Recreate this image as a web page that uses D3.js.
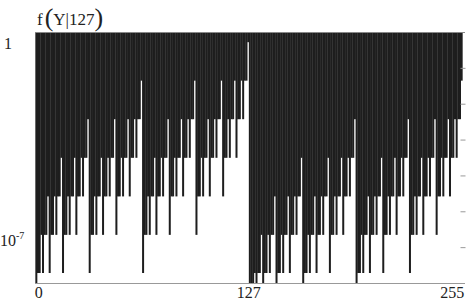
<!DOCTYPE html>
<html lang="en">
<head>
  <meta charset="utf-8">
  <script src="https://d3js.org/d3.v7.min.js"></script>
  <style>
    body { margin: 0; background: #fff; }
    text { font-family: "Liberation Serif", "DejaVu Serif", serif; fill: #222; }
    .axis path, .axis line { stroke: #999; }
  </style>
</head>
<body>
<script>
    // Hamming-distance level of each output Y (0..255), read bar by bar
    var levelOfY = [
      7,6,6,5,6,5,5,4,6,5,5,4,5,4,4,3, 6,5,5,4,5,4,4,3,5,4,4,3,4,3,3,2,
      6,5,5,4,5,4,4,3,5,4,4,3,4,3,3,2, 5,4,4,3,4,3,3,2,4,3,3,2,3,2,2,1,
      6,5,5,4,5,4,4,3,5,4,4,3,4,3,3,2, 5,4,4,3,4,3,3,2,4,3,3,2,3,2,2,1,
      5,4,4,3,4,3,3,2,4,3,3,2,3,2,2,1, 4,3,3,2,3,2,2,1,3,2,2,1,2,1,1,0,
      8,7,7,6,7,6,6,5,7,6,6,5,6,5,5,4, 7,6,6,5,6,5,5,4,6,5,5,4,5,4,4,3,
      7,6,6,5,6,5,5,4,6,5,5,4,5,4,4,3, 6,5,5,4,5,4,4,3,5,4,4,3,4,3,3,2,
      7,6,6,5,6,5,5,4,6,5,5,4,5,4,4,3, 6,5,5,4,5,4,4,3,5,4,4,3,4,3,3,2,
      6,5,5,4,5,4,4,3,5,4,4,3,4,3,3,2, 5,4,4,3,4,3,3,2,4,3,3,2,3,2,2,1
    ];
    // value of f(Y|127) for each level (estimated from bar ends)
    var levelValue = [5.2e-1, 4.4e-2, 3.7e-3, 3.1e-4, 2.6e-5, 2.2e-6, 1.9e-7, 1.6e-8, 1.3e-9];
    var xTicks = [0, 127, 255];
    var yLabels = [1, 1e-7];
    var yMinorTicks = [1e-6, 1e-5, 1e-4, 1e-3, 1e-2, 1e-1];

    var width = 466, height = 302;
    var mLeft = 35, mRight = 465, mTop = 32, mBottom = 283;

    var data = levelOfY.map(function(l, i){ return {y: i, f: levelValue[l]}; });

    var svg = d3.select("body").append("svg")
        .attr("width", width)
        .attr("height", height);

    var x = d3.scaleLinear().domain([-0.8, 257]).range([mLeft, mRight]);
    var y = d3.scaleLog().domain([1e-7, 1]).range([mBottom, mTop]).clamp(true);
    var step = x(1) - x(0);

    // bars hang from the top of the box down to the value (slight overlap so they read as solid)
    svg.append("g")
        .selectAll("rect")
        .data(data)
        .enter().append("rect")
        .attr("x", function(d){ return x(d.y) - step * 0.6; })
        .attr("width", step * 1.2)
        .attr("y", mTop)
        .attr("height", function(d){ return y(d.f) - mTop; })
        .attr("fill", "#1e1e1e");

    // box top
    svg.append("line")
        .attr("x1", mLeft).attr("x2", mRight)
        .attr("y1", mTop + 0.5).attr("y2", mTop + 0.5)
        .attr("stroke", "#888");

    // x axis
    var xAxis = svg.append("g")
        .attr("class", "axis")
        .attr("transform", "translate(0," + (mBottom + 0.5) + ")")
        .call(d3.axisBottom(x).tickValues(xTicks).tickSize(0).tickPadding(3).tickFormat(d3.format("d")));
    xAxis.select(".domain").attr("d", "M" + mLeft + ",0H" + mRight);
    xAxis.selectAll("text").attr("font-size", 16).style("font-family", "Liberation Serif");
    xAxis.selectAll(".tick").filter(function(d){ return d === 0; }).select("text").attr("dx", 2);
    xAxis.selectAll(".tick").filter(function(d){ return d === 255; }).select("text").attr("dx", -10);

    // left axis labels
    var yAxis = svg.append("g")
        .attr("class", "axis")
        .attr("transform", "translate(" + mLeft + ",0)")
        .call(d3.axisLeft(y).tickValues(yLabels).tickSize(0).tickPadding(5).tickFormat(""));
    yAxis.select(".domain").remove();
    yAxis.selectAll(".tick").each(function(d){
        var t = d3.select(this).select("text")
            .attr("font-size", 16)
            .style("font-family", "Liberation Serif")
            .attr("text-anchor", "start");
        if (d === 1) {
            t.attr("x", -31).attr("dy", 16).text("1");
        } else {
            t.attr("x", -35).attr("dy", -38).text("10");
            t.append("tspan").attr("font-size", 10).attr("dy", -7).text("-7");
        }
    });

    // inward decade ticks on the right side
    var yRight = svg.append("g")
        .attr("class", "axis")
        .attr("transform", "translate(" + (mRight + 0.5) + ",0)")
        .call(d3.axisLeft(y).tickValues(yMinorTicks).tickSize(5).tickFormat(""));
    yRight.select(".domain").remove();
    yRight.selectAll("line").attr("stroke", "#555");

    // title f(Y|127)
    var title = svg.append("text")
        .attr("x", 37).attr("y", 25)
        .attr("font-size", 17);
    title.append("tspan").text("f");
    title.append("tspan").attr("font-size", 26).attr("dx", 2).attr("dy", 1).text("(");
    title.append("tspan").attr("font-size", 17).attr("dy", -1).text("Y|127");
    title.append("tspan").attr("font-size", 26).attr("dy", 1).text(")");
</script>
</body>
</html>
